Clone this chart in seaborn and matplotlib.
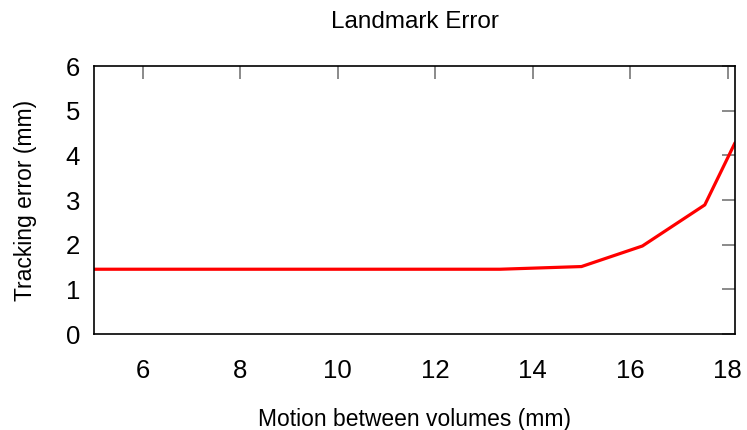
import matplotlib
matplotlib.use("Agg")
import matplotlib.pyplot as plt
import seaborn as sns
import pandas as pd

motion = [5.0, 13.33, 15.0, 16.25, 17.53, 18.15]
error = [1.45, 1.45, 1.51, 1.97, 2.89, 4.28]
xticks = [6, 8, 10, 12, 14, 16, 18]
yticks = [0, 1, 2, 3, 4, 5, 6]

sns.set_theme(style="white")
plt.rcParams['font.family'] = ['Liberation Sans', 'DejaVu Sans']
plt.rcParams['text.color'] = 'black'
plt.rcParams['axes.labelcolor'] = 'black'

df = pd.DataFrame({"motion": motion, "error": error})
fig = plt.figure(figsize=(7.47, 4.30), dpi=100)
ax = fig.add_axes([94/747, 96/430, (735-94)/747, (334-66)/430])
sns.lineplot(data=df, x="motion", y="error", color="#ff0000", linewidth=2.3, ax=ax)
ax.set_xlim(5, 18.15)
ax.set_ylim(0, 6)
ax.set_xticks(xticks)
ax.set_yticks(yticks)
ax.tick_params(direction="in", length=9.5, width=1.2, color="#777777", top=True, right=True,
               labelsize=18.5, colors="#777777", labelcolor="black")
ax.tick_params(axis="x", pad=18)
ax.tick_params(axis="y", pad=10)
for s in ax.spines.values():
    s.set_color("black")
    s.set_linewidth(1.2)
ax.set_xlabel("Motion between volumes (mm)", fontsize=16.5, labelpad=18)
ax.set_ylabel("Tracking error (mm)", fontsize=16.5, labelpad=21)
ax.set_title("Landmark Error", fontsize=17.5, pad=27)
fig.savefig("out.png", dpi=100)
